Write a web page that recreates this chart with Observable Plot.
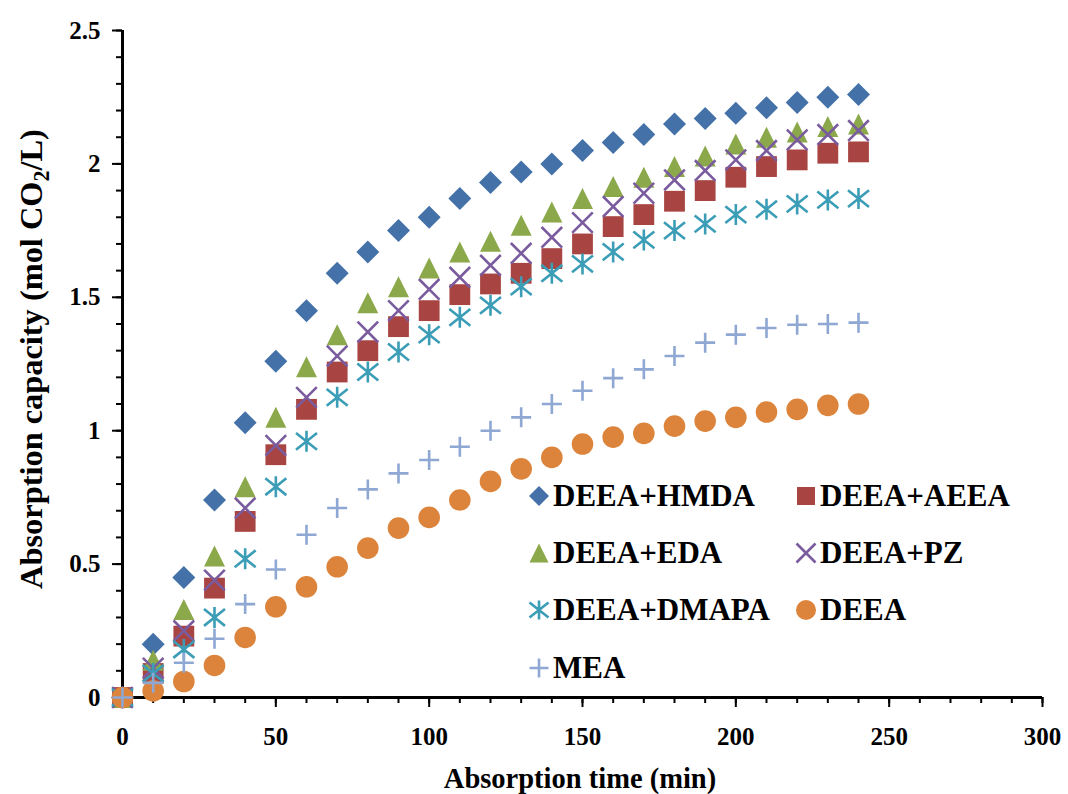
<!DOCTYPE html>
<html><head><meta charset="utf-8">
<script src="https://cdn.jsdelivr.net/npm/d3@7"></script>
<script src="https://cdn.jsdelivr.net/npm/@observablehq/plot@0.6"></script>
<style>
body{margin:0;background:#fff;}
#wrap{position:relative;width:1068px;height:794px;overflow:hidden;}
#legend{position:absolute;left:527px;top:467px;display:grid;grid-template-columns:267px 267px;grid-auto-rows:57.3px;font-family:"Liberation Serif","DejaVu Serif",serif;font-weight:bold;font-size:31px;color:#000;}
#legend .item{display:flex;align-items:center;white-space:nowrap;}
#legend svg{width:24px;height:24px;margin-right:2px;overflow:visible;}
.serif{font-family:"Liberation Serif","DejaVu Serif",serif;font-weight:bold;}
</style></head><body><div id="wrap"></div>
<script>
const time = [0,10,20,30,40,50,60,70,80,90,100,110,120,130,140,150,160,170,180,190,200,210,220,230,240];
const names = ["DEEA+HMDA","DEEA+AEEA","DEEA+EDA","DEEA+PZ","DEEA+DMAPA","DEEA","MEA"];
const hmda  = [0,0.20,0.45,0.74,1.03,1.26,1.45,1.59,1.67,1.75,1.80,1.87,1.93,1.97,2.00,2.05,2.08,2.11,2.15,2.17,2.19,2.21,2.23,2.25,2.26];
const aeea  = [0,0.09,0.23,0.41,0.66,0.91,1.08,1.22,1.30,1.39,1.45,1.51,1.55,1.59,1.645,1.70,1.765,1.81,1.86,1.90,1.95,1.99,2.015,2.04,2.045];
const eda   = [0,0.14,0.33,0.53,0.79,1.05,1.24,1.36,1.48,1.54,1.61,1.67,1.71,1.77,1.82,1.87,1.915,1.95,1.99,2.03,2.075,2.10,2.12,2.14,2.15];
const pz    = [0,0.11,0.25,0.44,0.71,0.945,1.125,1.28,1.37,1.45,1.53,1.575,1.62,1.665,1.725,1.78,1.84,1.89,1.94,1.975,2.015,2.05,2.09,2.11,2.125];
const dmapa = [0,0.09,0.18,0.30,0.52,0.79,0.96,1.125,1.22,1.295,1.36,1.425,1.47,1.54,1.59,1.625,1.67,1.715,1.75,1.775,1.81,1.83,1.85,1.865,1.87];
const deea  = [0,0.025,0.06,0.12,0.225,0.34,0.415,0.49,0.56,0.635,0.675,0.74,0.81,0.857,0.90,0.95,0.976,0.99,1.017,1.036,1.05,1.07,1.08,1.095,1.10];
const mea   = [0,0.055,0.13,0.22,0.35,0.48,0.61,0.71,0.78,0.84,0.89,0.94,1.00,1.05,1.10,1.15,1.197,1.23,1.28,1.33,1.36,1.385,1.397,1.40,1.405];
const seriesValues = [hmda, aeea, eda, pz, dmapa, deea, mea];
const xTicks = [0,50,100,150,200,250,300];
const yTicks = [0,0.5,1,1.5,2,2.5];

const FONT = '"Liberation Serif","DejaVu Serif",serif';

// custom symbols: r passed to Plot = half-extent in px
const mk = f => ({draw(c, size){ f(c, Math.sqrt(size/Math.PI)); }});
const symDiamond = mk((c,r)=>{c.moveTo(0,-r);c.lineTo(r,0);c.lineTo(0,r);c.lineTo(-r,0);c.closePath();});
const symSquare = mk((c,r)=>{c.rect(-r,-r,2*r,2*r);});
const symTriangle = mk((c,r)=>{c.moveTo(0,-r);c.lineTo(r,r);c.lineTo(-r,r);c.closePath();});
const symTimes = mk((c,r)=>{c.moveTo(-r,-r);c.lineTo(r,r);c.moveTo(-r,r);c.lineTo(r,-r);});
const symStar = mk((c,r)=>{c.moveTo(0,-r);c.lineTo(0,r);c.moveTo(-r,-r*0.8);c.lineTo(r,r*0.8);c.moveTo(-r,r*0.8);c.lineTo(r,-r*0.8);});
const symCircle = mk((c,r)=>{c.moveTo(r,0);c.arc(0,0,r,0,2*Math.PI);});
const symPlus = mk((c,r)=>{c.moveTo(-r,0);c.lineTo(r,0);c.moveTo(0,-r);c.lineTo(0,r);});

const styles = [
  {symbol:symDiamond, r:11.5, fill:"#4472A8", stroke:"none", sw:0, lr:10},
  {symbol:symSquare, r:10.4, fill:"#A84442", stroke:"none", sw:0, lr:9},
  {symbol:symTriangle, r:10.5, fill:"#8BA84B", stroke:"none", sw:0, lr:9.5},
  {symbol:symTimes, r:10.3, fill:"none", stroke:"#7A5C9E", sw:2.6, lr:9.5},
  {symbol:symStar, r:10.5, fill:"none", stroke:"#3B9DB6", sw:2.6, lr:9.5},
  {symbol:symCircle, r:10.8, fill:"#DC843B", stroke:"none", sw:0, lr:10},
  {symbol:symPlus, r:10, fill:"none", stroke:"#8EA7D3", sw:2.6, lr:9.5}
];

const dotMarks = names.map((name, k) => {
  const rows = time.map((t, i) => ({time: t, value: seriesValues[k][i], series: name}));
  const s = styles[k];
  return Plot.dot(rows, {x: "time", y: "value", symbol: () => s.symbol, r: s.r, fill: s.fill, stroke: s.stroke, strokeWidth: s.sw});
});

const chart = Plot.plot({
  width: 1068, height: 794,
  marginLeft: 122, marginRight: 26, marginTop: 30, marginBottom: 97,
  x: {domain: [0, 300]},
  y: {domain: [0, 2.5]},
  style: {fontFamily: FONT, fontWeight: "bold", fontSize: "25px", color: "#000", background: "#fff", overflow: "visible"},
  marks: [
    Plot.axisX({ticks: d3.range(0, 31).map(i => i * 10), tickSize: 6, tickFormat: () => "", strokeWidth: 2, label: null}),
    Plot.axisX({ticks: xTicks, tickSize: 10, tickPadding: 20, tickFormat: d => String(d), strokeWidth: 2, label: null, fontSize: 25}),
    Plot.axisY({ticks: d3.range(0, 26).map(i => i / 10), tickSize: 6, tickFormat: () => "", strokeWidth: 2, label: null}),
    Plot.axisY({ticks: yTicks, tickSize: 10, tickPadding: 12, tickFormat: d => String(d), strokeWidth: 2, label: null, fontSize: 25}),
    Plot.ruleX([0], {strokeWidth: 3}),
    Plot.ruleY([0], {strokeWidth: 3}),
    ...dotMarks
  ]
});
document.getElementById("wrap").appendChild(chart);

// axis titles
const svg = d3.select(chart);
svg.append("text")
  .attr("class", "serif")
  .attr("x", 580).attr("y", 788)
  .attr("text-anchor", "middle")
  .attr("font-size", 28.5)
  .text("Absorption time (min)");

// y title: fit to the span of the original (about y=128..590)
const ytFont = 28;
const yt = svg.append("text")
  .attr("class", "serif")
  .attr("text-anchor", "start")
  .attr("font-size", ytFont);
yt.append("tspan").text("Absorption capacity (mol CO");
const sub = yt.append("tspan").attr("dy", 7).attr("font-size", 19).text("2");
yt.append("tspan").attr("dy", -7).text("/L)");
const len0 = yt.node().getComputedTextLength();
const targetLen = 460, targetCenter = 359;
const fs = ytFont * targetLen / len0;
yt.attr("font-size", fs);
sub.attr("font-size", fs * 0.68);
const len1 = yt.node().getComputedTextLength();
yt.attr("transform", `translate(42,${targetCenter + len1 / 2}) rotate(-90)`);

// legend
const legend = d3.select("#wrap").append("div").attr("id", "legend");
names.forEach((name, k) => {
  const s = styles[k];
  const item = legend.append("div").attr("class", "item");
  const sv = item.append("svg").attr("viewBox", "-12 -12 24 24");
  sv.append("path")
    .attr("d", d3.symbol(s.symbol, Math.PI * s.lr * s.lr)())
    .attr("fill", s.fill).attr("stroke", s.stroke).attr("stroke-width", s.sw);
  item.append("span").text(name);
});
</script>
</body></html>
